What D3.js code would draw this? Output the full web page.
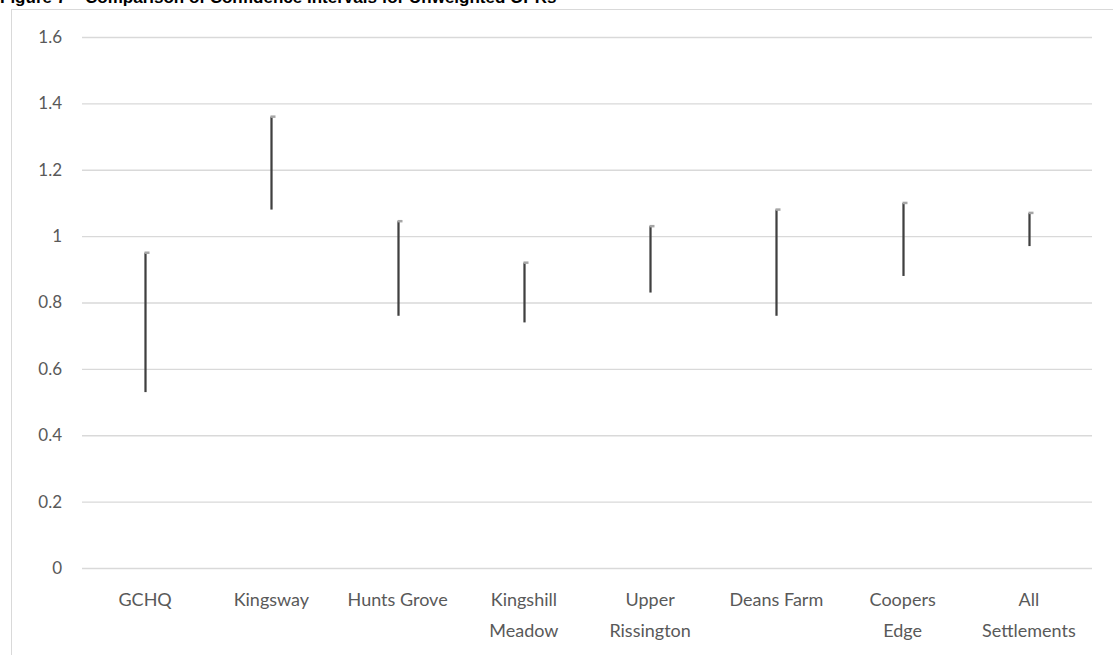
<!DOCTYPE html>
<html>
<head>
<meta charset="utf-8">
<script src="https://cdn.jsdelivr.net/npm/d3@7"></script>
<style>
  html, body { margin: 0; padding: 0; background: #fff; }
  svg { display: block; }
</style>
</head>
<body>
<svg id="chart" width="1113" height="655"></svg>
<script>
// Confidence interval bounds per settlement
const categories = ["GCHQ", "Kingsway", "Hunts Grove", "Kingshill Meadow", "Upper Rissington", "Deans Farm", "Coopers Edge", "All Settlements"];
const labelLines = [["GCHQ"], ["Kingsway"], ["Hunts Grove"], ["Kingshill", "Meadow"], ["Upper", "Rissington"], ["Deans Farm"], ["Coopers", "Edge"], ["All", "Settlements"]];
const upper = [0.95, 1.36, 1.045, 0.92, 1.03, 1.08, 1.10, 1.07];
const lower = [0.53, 1.08, 0.76, 0.74, 0.83, 0.76, 0.88, 0.97];
const yTicks = [0, 0.2, 0.4, 0.6, 0.8, 1, 1.2, 1.4, 1.6];

const svg = d3.select("#chart");
const font = "Lato, 'Open Sans', sans-serif";

// Title (sits partly above the top edge)
svg.append("text")
  .attr("x", 0).attr("y", 3)
  .attr("font-family", "'Liberation Sans', Arial, sans-serif")
  .attr("font-weight", "bold")
  .attr("font-size", 17)
  .attr("fill", "#000")
  .text("Figure 7 – Comparison of Confidence Intervals for Unweighted OPRs");

// Chart frame
svg.append("rect")
  .attr("x", 11.5).attr("y", 9.5)
  .attr("width", 1130).attr("height", 700)
  .attr("fill", "none")
  .attr("stroke", "#d9d9d9")
  .attr("stroke-width", 1);

const plot = { left: 82, right: 1092, top: 37, bottom: 568 };

const x = d3.scaleBand().domain(categories).range([plot.left, plot.right]);
const y = d3.scaleLinear().domain([0, 1.6]).range([plot.bottom, plot.top]);

// Gridlines and value axis
const yAxis = svg.append("g")
  .attr("transform", `translate(${plot.left},0)`)
  .call(d3.axisLeft(y).tickValues(yTicks).tickSize(-(plot.right - plot.left)).tickPadding(20)
    .tickFormat(d => d3.format("~g")(d)));
yAxis.select(".domain").remove();
yAxis.selectAll(".tick line").attr("stroke", "#d9d9d9").attr("stroke-width", 1.3);
yAxis.selectAll(".tick text")
  .attr("font-family", font).attr("font-size", 17).attr("fill", "#595959");

// Category labels
const xLab = svg.append("g");
categories.forEach((c, i) => {
  const t = xLab.append("text")
    .attr("x", x(c) + x.bandwidth() / 2)
    .attr("y", 606)
    .attr("text-anchor", "middle")
    .attr("font-family", font).attr("font-size", 18).attr("fill", "#595959");
  labelLines[i].forEach((line, j) => {
    t.append("tspan").attr("x", x(c) + x.bandwidth() / 2).attr("dy", j === 0 ? 0 : 31).text(line);
  });
});

// High-low lines
const data = categories.map((c, i) => ({ c, hi: upper[i], lo: lower[i] }));
const cx = d => Math.round(x(d.c) + x.bandwidth() / 2) + 0.5;

svg.append("g").selectAll("line").data(data).join("line")
  .attr("x1", cx).attr("x2", cx)
  .attr("y1", d => y(d.hi)).attr("y2", d => y(d.lo))
  .attr("stroke", "#404040").attr("stroke-width", 2.25);

// Close markers at the upper bound
svg.append("g").selectAll("line").data(data).join("line")
  .attr("x1", d => cx(d) - 1).attr("x2", d => cx(d) + 4)
  .attr("y1", d => y(d.hi)).attr("y2", d => y(d.hi))
  .attr("stroke", "#a6a6a6").attr("stroke-width", 2.5);
</script>
</body>
</html>
